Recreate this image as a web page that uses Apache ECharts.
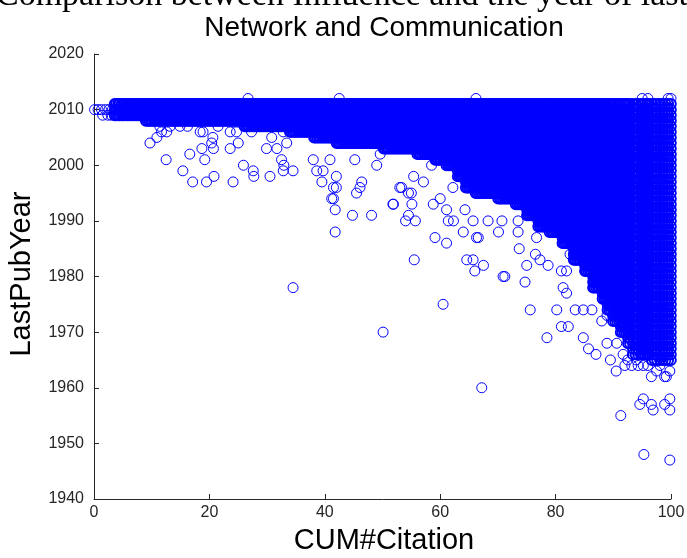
<!DOCTYPE html>
<html>
<head>
<meta charset="utf-8">
<script src="https://cdn.jsdelivr.net/npm/echarts@6/dist/echarts.min.js"></script>
<style>
html,body{margin:0;padding:0;background:#fff;}
#chart{width:687px;height:558px;}
</style>
</head>
<body>
<div id="chart"></div>
<script>
// ---- tick labels / titles ----
const xTicks = [0, 20, 40, 60, 80, 100];
const yTicks = [1940, 1950, 1960, 1970, 1980, 1990, 2000, 2010, 2020];
const titleLine1 = 'Comparison between Influence and the year of last publication';
const titleLine2 = 'Network and Communication';
const xName = 'CUM#Citation';
const yName = 'LastPubYear';

// ---- dense region: columns of points, one per integer year from top to bottom ----
const bandYearTop = [2010, 2011, 2011, 2011, 2011, 2011, 2011, 2011, 2011, 2011, 2011, 2011, 2011, 2011, 2011, 2011, 2011, 2011, 2011, 2011, 2011, 2011, 2011, 2011, 2011, 2011, 2011, 2011, 2011, 2011];
const bandYearBottom = [2010, 2009, 2008, 2007, 2006, 2005, 2004, 2003, 2002, 2001, 2000, 1998, 1996, 1995, 1994, 1993, 1991, 1989, 1988, 1986, 1983, 1981, 1978, 1976, 1974, 1972, 1970, 1968, 1966, 1965];
const bandX = [
  [0.1, 0.7, 1.3, 2.0, 2.6, 3.2],
  [3.6, 3.85, 4.2, 4.45, 4.8, 5.05, 5.35, 5.7, 5.95, 6.3, 6.55, 6.85, 7.2, 7.45, 7.8, 8.05, 8.35, 8.7],
  [9.0, 9.3, 9.55, 9.85, 10.1, 10.4, 10.7, 10.95, 11.25, 11.5, 11.8, 12.1, 12.35, 12.65, 12.9, 13.2, 13.5, 13.75, 14.05, 14.3, 14.6, 14.9, 15.15, 15.45, 15.7, 16.0, 16.3, 16.55, 16.85, 17.1, 17.4, 17.7, 17.95, 18.25, 18.5, 18.8, 19.1, 19.35, 19.65, 19.9, 20.2, 20.5, 20.75, 21.05, 21.3, 21.6, 21.9, 22.15, 22.45, 22.7, 23.0, 23.3, 23.55, 23.85, 24.1, 24.4, 24.7, 24.95, 25.25, 25.5, 25.8],
  [26.1, 26.35, 26.65, 26.9, 27.2, 27.5, 27.75, 28.05, 28.3, 28.6, 28.9, 29.15, 29.45, 29.7, 30.0, 30.3, 30.55, 30.85, 31.1, 31.4, 31.7, 31.95, 32.25, 32.5, 32.8, 33.1, 33.35, 33.65],
  [33.95, 34.2, 34.5, 34.8, 35.05, 35.35, 35.6, 35.9, 36.2, 36.45, 36.75, 37.0, 37.3, 37.6, 37.85],
  [38.15, 38.4, 38.7, 39.0, 39.25, 39.55, 39.8, 40.1, 40.4, 40.65, 40.95, 41.2, 41.5, 41.8],
  [42.05, 42.35, 42.6, 42.9, 43.2, 43.45, 43.75, 44.0, 44.3, 44.6, 44.85, 45.15, 45.4, 45.7, 46.0, 46.25, 46.55, 46.8, 47.1, 47.4, 47.65, 47.95, 48.2, 48.5, 48.8, 49.05, 49.35, 49.6, 49.9],
  [50.2, 50.45, 50.75, 51.0, 51.3, 51.6, 51.85, 52.15, 52.4, 52.7, 53.0, 53.25, 53.55, 53.8, 54.1, 54.4, 54.65, 54.95, 55.2, 55.5, 55.8],
  [56.05, 56.35, 56.6, 56.9, 57.2, 57.45, 57.75, 58.0, 58.3, 58.6, 58.85],
  [59.15, 59.4, 59.7, 60.0, 60.25, 60.55, 60.8],
  [61.1, 61.4, 61.65, 61.95, 62.2, 62.5, 62.8],
  [63.05, 63.35, 63.6, 63.9, 64.2],
  [64.45, 64.75, 65.0, 65.3, 65.6, 65.85],
  [66.15, 66.4, 66.7, 67.0, 67.25, 67.55, 67.8, 68.1, 68.4, 68.65, 68.95, 69.2, 69.5, 69.8],
  [70.05, 70.35, 70.6, 70.9, 71.2, 71.45, 71.75, 72.0, 72.3, 72.6, 72.85],
  [73.1, 73.4, 73.7, 73.95, 74.25, 74.5, 74.8],
  [75.05, 75.35, 75.6, 75.9, 76.2, 76.45, 76.75],
  [77.0, 77.3, 77.6, 77.85, 78.15, 78.4, 78.7],
  [78.95, 79.25, 79.5, 79.8, 80.1, 80.35, 80.65, 80.9],
  [81.2, 81.45, 81.75, 82.0, 82.3, 82.6, 82.85],
  [83.15, 83.4, 83.7, 84.0, 84.25, 84.55, 84.8],
  [85.1, 85.35, 85.65, 85.95, 86.2],
  [86.5, 86.75, 87.05, 87.35, 87.6, 87.9],
  [88.15, 88.45, 88.7],
  [89.0, 89.3, 89.6],
  [89.95, 90.3, 90.65, 91.0],
  [91.3, 91.6, 91.95, 92.25],
  [92.55, 92.9],
  [93.4, 93.87, 94.33, 94.8, 95.15, 95.5, 95.85, 96.2],
  [96.7, 97.17, 97.63, 98.1, 98.57, 99.03, 99.5, 99.97]
];
// bands that read as a solid blue mass in the reference
const solidBandFirst = 1;
const solidBandLast = 29;

// ---- individual points outside the dense region ----
const pointX = [1.5, 2.4, 3.0,
  11.4, 13.2, 14.9, 16.2, 21.5, 23.6, 24.7, 27.3, 18.9, 11.7, 12.6, 18.4, 20.6, 10.9, 30.8, 9.7, 20.4, 25.0, 18.7, 20.7, 23.6, 29.9, 16.6, 31.7, 12.5, 19.2, 32.5, 25.9, 15.4, 27.6, 32.8, 20.8, 27.7, 30.5, 17.1, 19.5, 24.1,
  32.8, 33.4, 32.9, 34.5, 38.6, 39.7, 41.5, 41.5, 42.0, 38.0, 40.9, 42.3, 45.2, 46.4, 46.1, 49.0, 49.6, 53.0, 51.9, 54.5, 55.4, 57.1, 60.0, 61.1, 62.2, 58.5,
  34.5, 50.1, 60.5, 55.5, 41.8, 44.8, 48.1, 41.8, 41.2, 42.0, 45.5, 51.8, 55.1, 54.0, 55.7, 54.5, 53.3, 55.0, 59.1, 61.1, 64.6, 66.0, 66.3, 64.0, 61.4, 62.3, 65.7, 58.8, 64.3, 39.5,
  66.6, 68.3, 70.7, 73.5, 70.1, 73.5, 76.7, 73.7, 65.7, 67.5, 71.2, 74.7, 76.5, 77.3, 78.7, 75.0, 81.0, 81.9, 81.3, 81.9, 82.5, 75.6, 80.2, 83.4, 84.8, 86.3, 81.0, 82.2, 78.5, 84.8, 85.7, 88.9, 90.6, 91.7, 88.0, 88.9, 85.1, 86.6, 70.9,
  87.0, 89.5, 90.5, 92.0, 92.5, 93.2, 94.0, 95.2, 96.6, 98.9, 94.3, 98.1, 99.2, 99.8, 97.5, 96.0,
  95.2, 94.6, 96.6, 96.9, 98.9, 99.8, 99.8, 91.3, 95.3, 99.8, 67.2,
  26.7, 42.5, 66.2, 95.0, 96.0, 99.5, 100.0];
const pointYear = [2009, 2009, 2009,
  2007, 2007, 2007, 2007, 2007, 2006, 2006, 2006, 2006, 2006, 2006, 2006, 2005, 2005, 2005, 2004, 2004, 2004, 2003, 2003, 2003, 2003, 2002, 2003, 2001, 2001, 2001, 2000, 1999, 1999, 1999, 1998, 1998, 1998, 1997, 1997, 1997,
  2006, 2004, 2000, 1999, 1999, 1999, 1996, 1994, 1998, 2001, 2001, 2004, 2001, 1997, 1996, 2000, 2002, 1996, 1993, 1995, 1998, 1997, 1994, 1992, 1996, 2000,
  1978, 1970, 1975, 1983, 1988, 1991, 1991, 1992, 1994, 1996, 1995, 1993, 1993, 1990, 1990, 1991, 1996, 1995, 1987, 1986, 1983, 1981, 1987, 1988, 1990, 1990, 1990, 1993, 1992, 1997,
  1987, 1990, 1990, 1990, 1988, 1988, 1987, 1985, 1983, 1982, 1980, 1979, 1984, 1983, 1982, 1982, 1981, 1981, 1978, 1977, 1984, 1974, 1974, 1974, 1974, 1974, 1971, 1971, 1969, 1969, 1967, 1968, 1968, 1966, 1972, 1973, 1983, 1978, 1980,
  1966, 1965, 1963, 1964, 1965, 1964, 1965, 1964, 1962, 1962, 1964, 1964, 1962, 1963, 1963, 1964,
  1958, 1957, 1957, 1956, 1957, 1958, 1956, 1955, 1948, 1947, 1960,
  2012, 2012, 2012, 2012, 2012, 2012, 2012];

// ---- build the data tables ----
const solidPoints = [];
const otherPoints = [];
for (let g = 0; g < bandX.length; g++) {
  const target = (g >= solidBandFirst && g <= solidBandLast) ? solidPoints : otherPoints;
  for (const x of bandX[g]) {
    for (let yr = bandYearTop[g]; yr >= bandYearBottom[g]; yr--) target.push([x, yr]);
  }
}
for (let i = 0; i < pointX.length; i++) otherPoints.push([pointX[i], pointYear[i]]);

const chart = echarts.init(document.getElementById('chart'), null, {renderer: 'canvas'});
const axisColor = '#262626';
const tickFont = {fontFamily: '"Liberation Sans", Arial, sans-serif', fontSize: 16, color: '#262626'};
const blue = '#0000ff';

function scatterSeries(data, bw) {
  return {
    type: 'scatter', data: data, symbol: 'circle', symbolSize: 10,
    large: false, progressive: 0, silent: true, clip: false,
    itemStyle: {color: 'rgba(0,0,0,0)', borderColor: blue, borderWidth: bw, opacity: 1}
  };
}

chart.setOption({
  animation: false,
  backgroundColor: '#ffffff',
  grid: {left: 94, right: 16, top: 54, bottom: 59, outerBoundsMode: 'none', containLabel: false},
  xAxis: {
    type: 'value', min: xTicks[0], max: xTicks[xTicks.length - 1], interval: 20,
    axisLine: {show: true, onZero: false, lineStyle: {color: axisColor, width: 1}},
    axisTick: {show: true, inside: true, length: 5, lineStyle: {color: axisColor}},
    axisLabel: Object.assign({margin: 6, formatter: v => String(v)}, tickFont),
    splitLine: {show: false}
  },
  yAxis: {
    type: 'value', min: yTicks[0], max: yTicks[yTicks.length - 1], interval: 10,
    axisLine: {show: true, onZero: false, lineStyle: {color: axisColor, width: 1}},
    axisTick: {show: true, inside: true, length: 5, lineStyle: {color: axisColor}},
    axisLabel: Object.assign({margin: 10, formatter: v => String(v)}, tickFont),
    splitLine: {show: false}
  },
  series: [scatterSeries(solidPoints, 1.9), scatterSeries(otherPoints, 1)],
  graphic: [
    {type: 'text', x: -4, y: -4, silent: true,
     style: {text: titleLine1, font: '34px "Liberation Serif", "Times New Roman", serif', fill: '#000', align: 'left', verticalAlign: 'middle'}},
    {type: 'text', x: 384, y: 28, silent: true,
     style: {text: titleLine2, font: '28px "Liberation Sans", Arial, sans-serif', fill: '#000', align: 'center', verticalAlign: 'middle'}},
    {type: 'text', x: 384, y: 541, silent: true,
     style: {text: xName, font: '29px "Liberation Sans", Arial, sans-serif', fill: '#000', align: 'center', verticalAlign: 'middle'}},
    {type: 'text', x: 22, y: 274, rotation: Math.PI / 2, silent: true,
     style: {text: yName, font: '29px "Liberation Sans", Arial, sans-serif', fill: '#000', align: 'center', verticalAlign: 'middle'}}
  ]
});
</script>
</body>
</html>
